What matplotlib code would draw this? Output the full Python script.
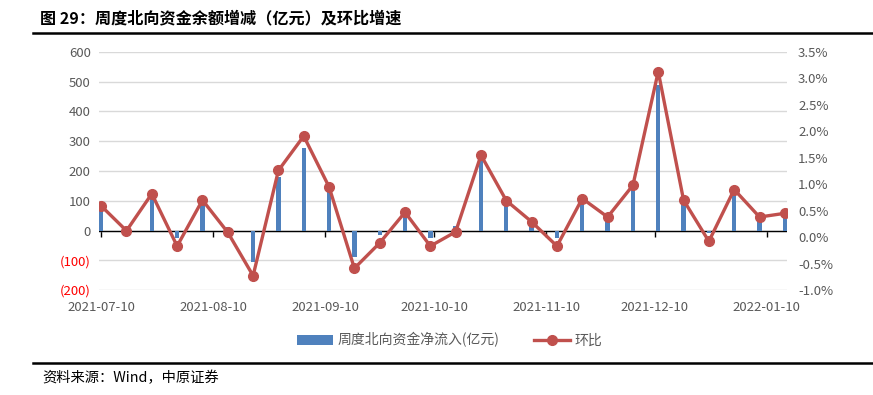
import numpy as np
import pandas as pd
import matplotlib
matplotlib.use('Agg')
import matplotlib.pyplot as plt
import matplotlib.dates as mdates
from matplotlib.lines import Line2D
from matplotlib.ticker import FuncFormatter, MultipleLocator

plt.rcParams['font.family'] = ['Noto Sans CJK SC', 'DejaVu Sans']

# weekly data
dates = pd.date_range('2021-07-10', periods=28, freq='7D')
flow = [75, 12, 110, -24, 91, 11, -105, 181, 278, 136,
        -88, -15, 55, -26, 15, 237, 90, 30, -26, 100,
        40, 145, 490, 91, -10, 130, 60, 65]
ratio = [0.59, 0.12, 0.82, -0.17, 0.70, 0.09, -0.73, 1.26, 1.91, 0.95,
         -0.59, -0.11, 0.47, -0.17, 0.10, 1.55, 0.69, 0.29, -0.17, 0.73,
         0.38, 0.98, 3.13, 0.70, -0.08, 0.90, 0.38, 0.45]
month_ticks = pd.to_datetime(['2021-07-10', '2021-08-10', '2021-09-10', '2021-10-10',
                              '2021-11-10', '2021-12-10', '2022-01-10'])

blue = '#4F81BD'
red = '#C0504D'
grey = '#595959'

fig = plt.figure(figsize=(8.73, 3.95), dpi=100)
ax = fig.add_axes([0.1134, 0.2658, 0.7881, 0.6026])
ax2 = ax.twinx()

ax.bar(dates, flow, width=1.2, color=blue, zorder=3, label='周度北向资金净流入(亿元)')
ax.axhline(0, color='black', lw=1, zorder=2.5)
ax2.plot(dates, ratio, color=red, lw=2.4, marker='o', ms=7, zorder=4, label='环比')

ax.set_ylim(-200, 600)
ax.yaxis.set_major_locator(MultipleLocator(100))
ax.yaxis.set_major_formatter(FuncFormatter(lambda v, p: f'({abs(int(v))})' if v < 0 else f'{int(v)}'))
ax.grid(axis='y', color='#D9D9D9', lw=1, zorder=0)
ax2.set_ylim(-1.0, 3.5)
ax2.yaxis.set_major_locator(MultipleLocator(0.5))
ax2.yaxis.set_major_formatter(FuncFormatter(lambda v, p: f'{v:.1f}%'))

ax.set_xlim(dates[0] - pd.Timedelta(days=0.6), dates[-1] + pd.Timedelta(days=0.6))
ax.set_xticks(month_ticks)
ax.xaxis.set_major_formatter(mdates.DateFormatter('%Y-%m-%d'))
ax.tick_params(axis='x', length=0, pad=8, labelsize=9.5, labelcolor=grey)
ax.tick_params(axis='y', length=0, pad=6, labelsize=9.5, labelcolor=grey)
for lbl in ax.get_yticklabels():
    if lbl.get_text().startswith('('):
        lbl.set_color('#FF0000')
ax2.tick_params(axis='y', length=0, pad=8, labelsize=9.5, labelcolor=grey)

for a in (ax, ax2):
    for s in a.spines.values():
        s.set_visible(False)

# tick marks hanging from the zero line
zero = ax.secondary_xaxis(200 / 800)
zero.set_xticks(month_ticks)
zero.set_xticklabels([])
zero.tick_params(axis='x', length=4, width=1, color='black', direction='out')
zero.spines['bottom'].set_visible(False)

h1, l1 = ax.get_legend_handles_labels()
h2, l2 = ax2.get_legend_handles_labels()
fig.legend(h1 + h2, l1 + l2, loc='center', bbox_to_anchor=(0.515, 0.139), ncol=2,
           frameon=False, fontsize=10, labelcolor=grey, handlelength=2.6,
           columnspacing=2.5, handletextpad=0.3)

fig.text(0.046, 0.954, '图 29：周度北向资金余额增减（亿元）及环比增速', fontsize=11.6,
         fontweight='bold', va='center', ha='left')
fig.add_artist(Line2D([0.038, 1.0], [0.916, 0.916], color='black', lw=1.8))
fig.add_artist(Line2D([0.038, 1.0], [0.082, 0.082], color='black', lw=1.8))
fig.text(0.049, 0.043, '资料来源：Wind，中原证券', fontsize=10.3, va='center', ha='left')

fig.savefig('out.png', dpi=100)
